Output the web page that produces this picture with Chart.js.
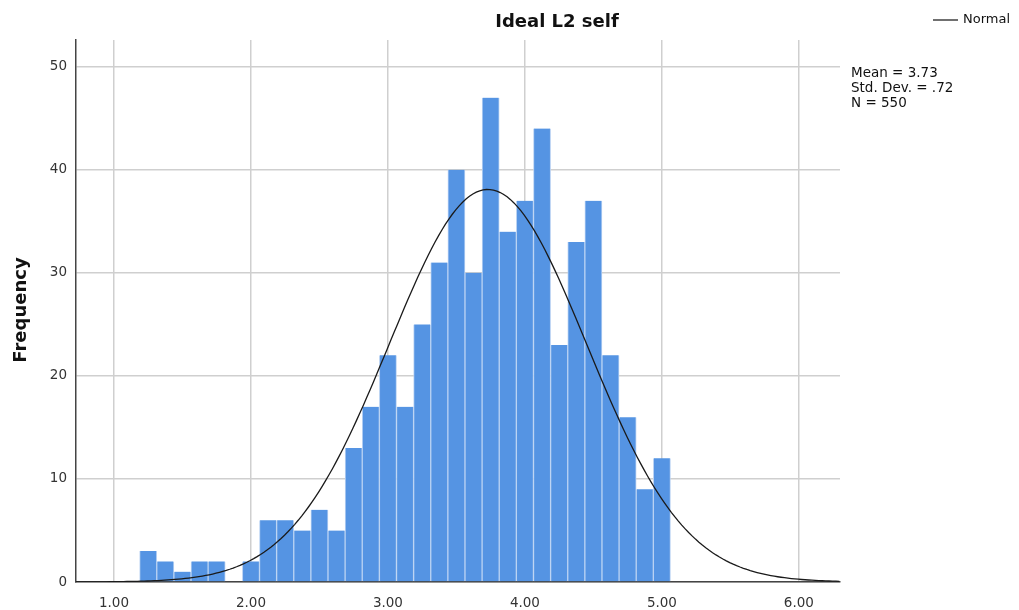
<!DOCTYPE html>
<html>
<head>
<meta charset="utf-8">
<script src="https://cdn.jsdelivr.net/npm/chart.js@4"></script>
<style>
  html, body { margin: 0; padding: 0; background: #fff; }
  #wrap { width: 1019px; height: 610px; }
</style>
</head>
<body>
<div id="wrap"><canvas id="histChart" width="1019" height="610"></canvas></div>
<script>
// Histogram bins (centres) and counts
const binCentres = [1.25, 1.375, 1.5, 1.625, 1.75, 1.875, 2.0, 2.125, 2.25, 2.375, 2.5, 2.625,
    2.75, 2.875, 3.0, 3.125, 3.25, 3.375, 3.5, 3.625, 3.75, 3.875, 4.0, 4.125, 4.25, 4.375,
    4.5, 4.625, 4.75, 4.875, 5.0];
const counts = [3, 2, 1, 2, 2, 0, 2, 6, 6, 5, 7, 5,
    13, 17, 22, 17, 25, 31, 40, 30, 47, 34, 37, 44, 23, 33,
    37, 22, 16, 9, 12];

// Tick labels
const xTicks = [1, 2, 3, 4, 5, 6];
const yTicks = [0, 10, 20, 30, 40, 50];

// Summary statistics shown on the chart
const mean = 3.73;
const stdDev = 0.72;
const n = 550;
const binWidth = 0.125;
const statLines = ['Mean = 3.73', 'Std. Dev. = .72', 'N = 550'];

// Normal curve from the printed statistics (what SPSS overlays)
const curveXs = [];
for (let x = 0.72; x <= 6.31; x += 0.025) curveXs.push(x);
const normalCurve = curveXs.map(x => ({
    x: x,
    y: n * binWidth / (stdDev * Math.sqrt(2 * Math.PI)) * Math.exp(-0.5 * Math.pow((x - mean) / stdDev, 2))
}));

const FONT = '"DejaVu Sans", sans-serif';

// Title, axis title, legend and stats drawn on the canvas
const decorPlugin = {
    id: 'decor',
    afterDraw(chart) {
        const ctx = chart.ctx;
        ctx.save();
        ctx.fillStyle = '#111';
        ctx.textBaseline = 'middle';

        ctx.font = 'bold 18px ' + FONT;
        ctx.textAlign = 'center';
        ctx.fillText('Ideal L2 self', 557, 22);

        ctx.save();
        ctx.translate(21, 310);
        ctx.rotate(-Math.PI / 2);
        ctx.font = 'bold 18px ' + FONT;
        ctx.fillText('Frequency', 0, 0);
        ctx.restore();

        // legend
        ctx.strokeStyle = '#222';
        ctx.lineWidth = 1.3;
        ctx.beginPath();
        ctx.moveTo(933, 20);
        ctx.lineTo(958, 20);
        ctx.stroke();
        ctx.font = '13px ' + FONT;
        ctx.textAlign = 'left';
        ctx.fillText('Normal', 963, 20);

        // stats
        ctx.font = '13.5px ' + FONT;
        statLines.forEach((line, i) => {
            ctx.fillText(line, 851, 73 + i * 15);
        });
        ctx.restore();
    }
};

const ctx = document.getElementById('histChart').getContext('2d');
const histChart = new Chart(ctx, {
    data: {
        datasets: [
            {
                type: 'line',
                label: 'Normal',
                data: normalCurve,
                borderColor: '#1a1a1a',
                borderWidth: 1.3,
                pointRadius: 0,
                tension: 0,
                fill: false,
                order: 0
            },
            {
                type: 'bar',
                label: 'Frequency',
                data: binCentres.map((c, i) => ({ x: c, y: counts[i] })),
                backgroundColor: '#5594e3',
                borderColor: '#b9d2f3',
                borderWidth: { left: 1, right: 1, top: 0, bottom: 0 },
                borderSkipped: false,
                barPercentage: 1,
                categoryPercentage: 1,
                order: 1
            }
        ]
    },
    options: {
        responsive: false,
        animation: false,
        layout: { padding: { left: 0, right: 179, top: 40, bottom: 0 } },
        plugins: {
            legend: { display: false },
            title: { display: false },
            tooltip: { enabled: false }
        },
        scales: {
            x: {
                type: 'linear',
                offset: false,
                min: 0.723,
                max: 6.30,
                afterBuildTicks: scale => { scale.ticks = xTicks.map(v => ({ value: v })); },
                afterFit: scale => { scale.height = 28; },
                ticks: {
                    callback: v => v.toFixed(2),
                    font: { family: FONT, size: 13.5 },
                    color: '#333',
                    padding: 13,
                    maxRotation: 0
                },
                grid: { color: '#cfcfcf', lineWidth: 1.5, drawTicks: false, offset: false },
                border: { color: '#444', width: 1.5 }
            },
            y: {
                min: 0,
                max: 52.6,
                afterBuildTicks: scale => { scale.ticks = yTicks.map(v => ({ value: v })); },
                afterFit: scale => { scale.width = 76; },
                ticks: {
                    font: { family: FONT, size: 13.5 },
                    color: '#333',
                    padding: 9
                },
                grid: { color: '#cfcfcf', lineWidth: 1.5, drawTicks: false },
                border: { color: '#444', width: 1.5 }
            }
        }
    },
    plugins: [decorPlugin]
});
</script>
</body>
</html>
